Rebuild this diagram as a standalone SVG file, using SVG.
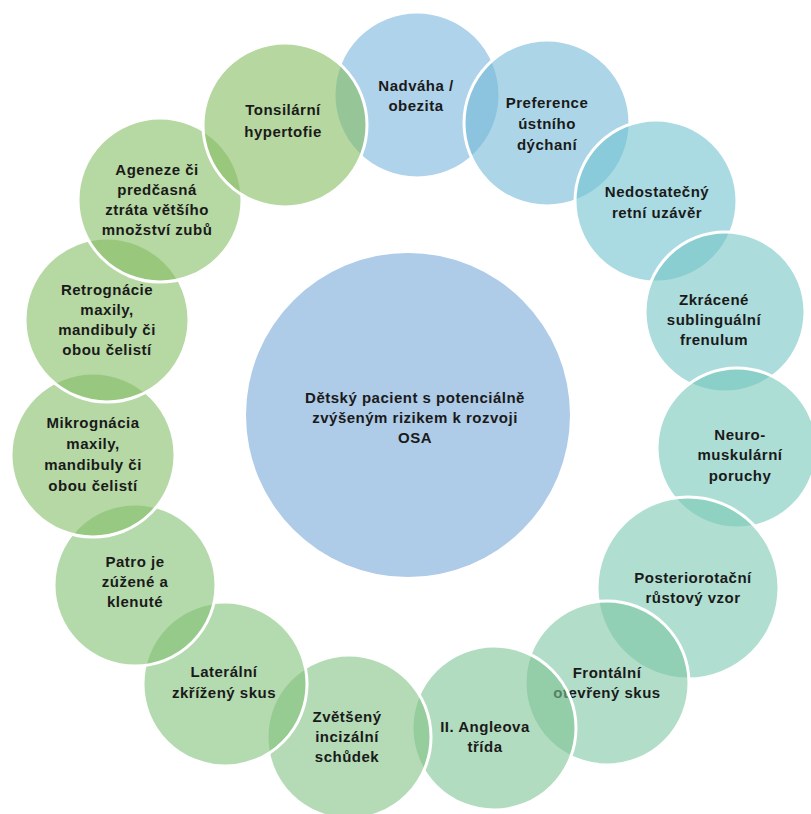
<svg xmlns="http://www.w3.org/2000/svg" width="811" height="814" viewBox="0 0 811 814">
<style>
.c{stroke:#fff;stroke-width:3;fill-opacity:0.6}
text{font-family:"Liberation Sans",Arial,sans-serif;font-weight:bold;font-size:15px;fill:#1a1a1a;text-anchor:middle;letter-spacing:0.5px}
</style>
<rect width="811" height="814" fill="#fff"/>
<g id="center">
<circle cx="408" cy="415" r="162" fill="#aecbe8"/>
<text x="415" y="403">Dětský pacient s potenciálně</text>
<text x="415" y="423">zvýšeným rizikem k rozvoji</text>
<text x="415" y="443">OSA</text>
</g>
<g id="n1"><circle class="c" cx="417" cy="95" r="83" fill="rgb(123,182,223)"/>
<text x="416" y="91">Nadváha /</text><text x="416" y="111">obezita</text></g>
<g id="n2"><circle class="c" cx="547" cy="123" r="83" fill="rgb(117,187,217)"/>
<text x="547" y="108">Preference</text><text x="547" y="129">ústního</text><text x="547" y="150">dýchaní</text></g>
<g id="n3"><circle class="c" cx="656" cy="201" r="81" fill="rgb(113,195,208)"/>
<text x="657" y="197">Nedostatečný</text><text x="657" y="218">retní uzávěr</text></g>
<g id="n4"><circle class="c" cx="725" cy="312" r="80" fill="rgb(117,197,197)"/>
<text x="714" y="305">Zkrácené</text><text x="714" y="325">sublinguální</text><text x="714" y="345">frenulum</text></g>
<g id="n5"><circle class="c" cx="737" cy="448" r="80" fill="rgb(117,200,187)"/>
<text x="740" y="440">Neuro-</text><text x="740" y="460">muskulární</text><text x="740" y="481">poruchy</text></g>
<g id="n6"><circle class="c" cx="688" cy="588" r="91" fill="rgb(123,202,180)"/>
<text x="693" y="583">Posteriorotační</text><text x="693" y="603">růstový vzor</text></g>
<g id="n7"><circle class="c" cx="607" cy="683" r="82" fill="rgb(127,198,163)"/>
<text x="607" y="678">Frontální</text><text x="607" y="698">otevřený skus</text></g>
<g id="n8"><circle class="c" cx="494" cy="728" r="82" fill="rgb(127,197,148)"/>
<text x="485" y="732">II. Angleova</text><text x="485" y="752">třída</text></g>
<g id="n9"><circle class="c" cx="349" cy="737" r="82" fill="rgb(130,195,133)"/>
<text x="347" y="722">Zvětšený</text><text x="347" y="742">incizální</text><text x="347" y="762">schůdek</text></g>
<g id="n10"><circle class="c" cx="225" cy="684" r="82" fill="rgb(130,193,122)"/>
<text x="224" y="677">Laterální</text><text x="224" y="698">zkřížený skus</text></g>
<g id="n11"><circle class="c" cx="135" cy="585" r="81" fill="rgb(130,192,113)"/>
<text x="135" y="567">Patro je</text><text x="135" y="587">zúžené a</text><text x="135" y="607">klenuté</text></g>
<g id="n12"><circle class="c" cx="93" cy="455" r="82" fill="rgb(132,190,105)"/>
<text x="93" y="428">Mikrognácia</text><text x="93" y="449">maxily,</text><text x="93" y="470">mandibuly či</text><text x="93" y="491">obou čelistí</text></g>
<g id="n13"><circle class="c" cx="107" cy="320" r="82" fill="rgb(133,190,102)"/>
<text x="107" y="295">Retrognácie</text><text x="107" y="315">maxily,</text><text x="107" y="335">mandibuly či</text><text x="107" y="355">obou čelistí</text></g>
<g id="n14"><circle class="c" cx="160" cy="200" r="82" fill="rgb(133,190,100)"/>
<text x="157" y="175">Ageneze či</text><text x="157" y="195">predčasná</text><text x="157" y="215">ztráta většího</text><text x="157" y="235">množství zubů</text></g>
<g id="n15"><circle class="c" cx="285" cy="125" r="82" fill="rgb(133,188,97)"/>
<text x="283" y="115">Tonsilární</text><text x="283" y="137">hypertofie</text></g>
<g id="connectors"/>
</svg>
